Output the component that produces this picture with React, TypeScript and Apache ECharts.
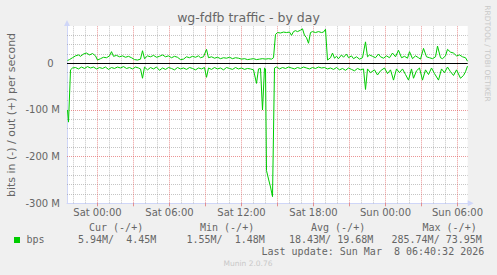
import { useEffect, useRef } from 'react';
import * as echarts from 'echarts';

// time: minutes since Sat 00:00; values in Mbit/s
const OUT_TIME = [-150,-140,-125,-110,-95,-85,-70,-55,-40,-25,-10,0,15,30,45,60,70,80,95,110,125,140,155,170,185,200,215,225,235,250,265,280,295,310,325,340,355,370,385,400,415,430,445,460,475,490,505,515,530,545,555,570,585,600,615,630,645,660,675,690,705,720,735,750,765,780,795,810,825,840,855,870,880,890,900,915,930,945,960,970,980,990,1000,1015,1025,1035,1045,1055,1065,1075,1090,1105,1120,1130,1140,1150,1165,1175,1185,1195,1205,1220,1230,1245,1255,1270,1280,1295,1310,1325,1340,1350,1360,1375,1390,1405,1415,1430,1445,1460,1475,1490,1505,1520,1535,1550,1560,1575,1590,1605,1615,1630,1645,1660,1675,1690,1700,1715,1725,1740,1750,1765,1780,1795,1810,1825,1840,1850];
const OUT_VALUE = [6,8,12,16,18,15,20,22,18,21,16,7,10,13,12,16,25,15,17,14,16,13,15,12,8,7,9,27,10,16,14,17,13,15,18,14,16,12,15,13,8,9,14,12,15,13,16,12,14,30,12,14,11,13,10,12,11,13,10,12,11,9,10,8,9,10,8,9,10,9,10,9,12,62,66,65,67,66,67,60,68,70,68,71,73.95,60,55,43,66,68,66,68,66,67,73,7,12,22,11,15,10,18,13,20,12,16,10,14,9,12,46,14,18,15,12,20,14,11,16,12,22,14,28,12,15,11,25,10,16,12,9,32,14,12,10,14,37,12,10,16,30,24,22,16,18,14,12,4.45];

const IN_TIME = [-150,-145,-135,-125,-110,-95,-80,-65,-50,-35,-20,-5,10,25,40,55,70,85,100,115,130,145,160,175,190,205,215,225,235,250,265,280,295,310,325,340,355,370,385,400,415,430,445,460,475,490,505,520,535,545,555,570,585,600,615,630,645,660,675,690,705,720,735,750,765,780,795,805,815,825,835,840,845,855,865,875,885,895,910,925,940,955,970,985,1000,1015,1030,1045,1060,1075,1090,1105,1120,1135,1150,1165,1180,1195,1210,1225,1240,1255,1270,1285,1300,1315,1330,1340,1350,1365,1385,1400,1415,1435,1450,1465,1480,1495,1510,1525,1540,1555,1570,1580,1595,1610,1625,1640,1655,1670,1685,1705,1720,1735,1750,1765,1780,1795,1815,1830,1840,1850];
const IN_VALUE = [100,126,14,10,9,12,8,11,7,10,8,12,9,11,8,13,9,11,8,10,7,11,9,12,8,10,12,32,8,14,9,12,8,15,10,13,9,11,14,9,12,10,13,9,11,14,10,12,9,30,10,13,9,12,10,14,9,11,13,9,12,10,13,11,12,14,43,12,11,100,10,12,230,248,265,285.74,10,8,12,9,11,8,10,12,9,11,8,10,12,9,11,8,10,9,12,10,13,9,14,11,15,10,13,16,11,14,12,56,12,20,14,25,16,10,22,14,36,12,20,12,24,36,12,32,16,10,36,14,24,10,22,36,12,20,8,18,26,14,32,26,18,5.94];

const X_LABEL_TIMES = [0, 360, 720, 1080, 1440, 1800];
const X_LABELS = ['Sat 00:00', 'Sat 06:00', 'Sat 12:00', 'Sat 18:00', 'Sun 00:00', 'Sun 06:00'];
const X_TICK_TIMES = [0, 180, 360, 540, 720, 900, 1080, 1260, 1440, 1620, 1800];
const Y_LABEL_VALUES = [-300, -200, -100, 0];

const TITLE = 'wg-fdfb traffic - by day';
const Y_NAME = 'bits in (-) / out (+) per second';
const SIDE_TEXT = 'RRDTOOL / TOBI OETIKER';
const LEGEND_HEADERS = ['Cur (-/+)', 'Min (-/+)', 'Avg (-/+)', 'Max (-/+)'];
const LEGEND_NAME = 'bps';
const LEGEND_VALUES = ['5.94M/  4.45M', '1.55M/  1.48M', '18.43M/ 19.68M', '285.74M/ 73.95M'];
const LAST_UPDATE = 'Last update: Sun Mar  8 06:40:32 2026';
const FOOTER = 'Munin 2.0.76';

const GREEN = '#00cc00';
const FONT_COLOR = '#666666';
const AXIS_COLOR = '#cfd6f8';
const GRID_COLOR = 'rgba(150,150,150,0.55)';
const MGRID_COLOR = 'rgba(222,79,79,0.6)';

const nb = (s: string) => s.replace(/ /g, '\u00a0');

export default function App() {
  const ref = useRef<HTMLDivElement>(null);
  useEffect(() => {
    const chart = echarts.init(ref.current!, undefined, { renderer: 'svg', width: 497, height: 275 });

    const gridLines: any[] = [];
    for (let v = -280; v <= 60; v += 20) {
      if (v % 100 === 0) continue;
      gridLines.push({ yAxis: v, lineStyle: { color: GRID_COLOR, type: [1, 1], width: 1 } });
    }
    for (let h = -2; h <= 30; h++) {
      gridLines.push({
        xAxis: h * 60,
        lineStyle: h % 3 === 0 ? { color: MGRID_COLOR, type: [1, 1], width: 1 } : { color: GRID_COLOR, type: [1, 1], width: 1 },
      });
    }
    [-100, -200].forEach((v) => gridLines.push({ yAxis: v, lineStyle: { color: MGRID_COLOR, type: [1, 1], width: 1 } }));
    gridLines.push({ yAxis: 0, lineStyle: { color: '#000000', type: 'solid', width: 1 } });

    const mono = '10px "DejaVu Sans Mono"';
    const texts: any[] = [
      { type: 'text', x: 248.5, y: 17.5, style: { text: TITLE, font: '12.5px "DejaVu Sans"', fill: FONT_COLOR, align: 'center', verticalAlign: 'middle' } },
      { type: 'text', x: 11, y: 115, rotation: Math.PI / 2, style: { text: Y_NAME, font: '11px "DejaVu Sans"', fill: FONT_COLOR, align: 'center', verticalAlign: 'middle' } },
      { type: 'text', x: 487, y: 53.5, rotation: -Math.PI / 2, style: { text: SIDE_TEXT, font: '7.5px "DejaVu Sans"', fill: '#c8c8c8', align: 'center', verticalAlign: 'middle' } },
      { type: 'rect', shape: { x: 14, y: 237, width: 6, height: 6 }, style: { fill: GREEN } },
      { type: 'text', x: 26.5, y: 239.7, style: { text: LEGEND_NAME, font: mono, fill: FONT_COLOR, align: 'left', verticalAlign: 'middle' } },
      { type: 'text', x: 261.5, y: 251.7, style: { text: nb(LAST_UPDATE), font: mono, fill: FONT_COLOR, align: 'left', verticalAlign: 'middle' } },
      { type: 'text', x: 248, y: 263.7, style: { text: FOOTER, font: '7.5px "DejaVu Sans"', fill: '#c8c8c8', align: 'center', verticalAlign: 'middle' } },
    ];
    const headerX = [89, 200, 311, 422.5];
    LEGEND_HEADERS.forEach((t, i) =>
      texts.push({ type: 'text', x: headerX[i], y: 227.3, style: { text: nb(t), font: mono, fill: FONT_COLOR, align: 'left', verticalAlign: 'middle' } })
    );
    const valueX = [78, 186.5, 289, 391.5];
    LEGEND_VALUES.forEach((t, i) =>
      texts.push({ type: 'text', x: valueX[i], y: 239.7, style: { text: nb(t), font: mono, fill: FONT_COLOR, align: 'left', verticalAlign: 'middle' } })
    );

    chart.setOption({
      animation: false,
      backgroundColor: '#f0f0f0',
      grid: { left: 67, top: 26, width: 400.7, height: 177.3, show: true, backgroundColor: '#ffffff', borderWidth: 0 },
      xAxis: {
        type: 'value',
        min: -152.5,
        max: 1851,
        axisLine: { show: true, onZero: false, lineStyle: { color: AXIS_COLOR, width: 1 }, symbol: ['none', 'triangle'], symbolSize: [6, 6], symbolOffset: [0, 3] },
        axisTick: { show: true, customValues: X_TICK_TIMES, length: 3, lineStyle: { color: MGRID_COLOR } },
        axisLabel: {
          customValues: X_LABEL_TIMES,
          formatter: (v: number) => {
            const i = X_LABEL_TIMES.indexOf(v);
            return i >= 0 ? X_LABELS[i] : '';
          },
          color: FONT_COLOR,
          fontFamily: 'DejaVu Sans',
          fontSize: 10,
          margin: 4,
        },
        splitLine: { show: false },
      },
      yAxis: {
        type: 'value',
        min: -300,
        max: 80,
        axisLine: { show: true, onZero: false, lineStyle: { color: AXIS_COLOR, width: 1 }, symbol: ['none', 'triangle'], symbolSize: [6, 6], symbolOffset: [0, 3] },
        axisTick: { show: false },
        axisLabel: {
          customValues: Y_LABEL_VALUES,
          formatter: (v: number) => (v === 0 ? '0\u00a0\u00a0' : `${v} M`),
          color: FONT_COLOR,
          fontFamily: 'DejaVu Sans',
          fontSize: 10,
          margin: 7,
        },
        splitLine: { show: false },
      },
      series: [
        {
          type: 'line',
          data: [],
          silent: true,
          markLine: { silent: true, symbol: ['none', 'none'], label: { show: false }, z: 1, animation: false, data: gridLines },
        },
        {
          type: 'line',
          name: 'out',
          data: OUT_TIME.map((t, i) => [t, OUT_VALUE[i]]),
          showSymbol: false,
          lineStyle: { color: GREEN, width: 1 },
          z: 3,
        },
        {
          type: 'line',
          name: 'in',
          data: IN_TIME.map((t, i) => [t, -IN_VALUE[i]]),
          showSymbol: false,
          lineStyle: { color: GREEN, width: 1 },
          z: 3,
        },
      ],
      graphic: texts,
    });
    return () => chart.dispose();
  }, []);
  return <div ref={ref} style={{ position: 'fixed', left: 0, top: 0, width: 497, height: 275 }} />;
}
